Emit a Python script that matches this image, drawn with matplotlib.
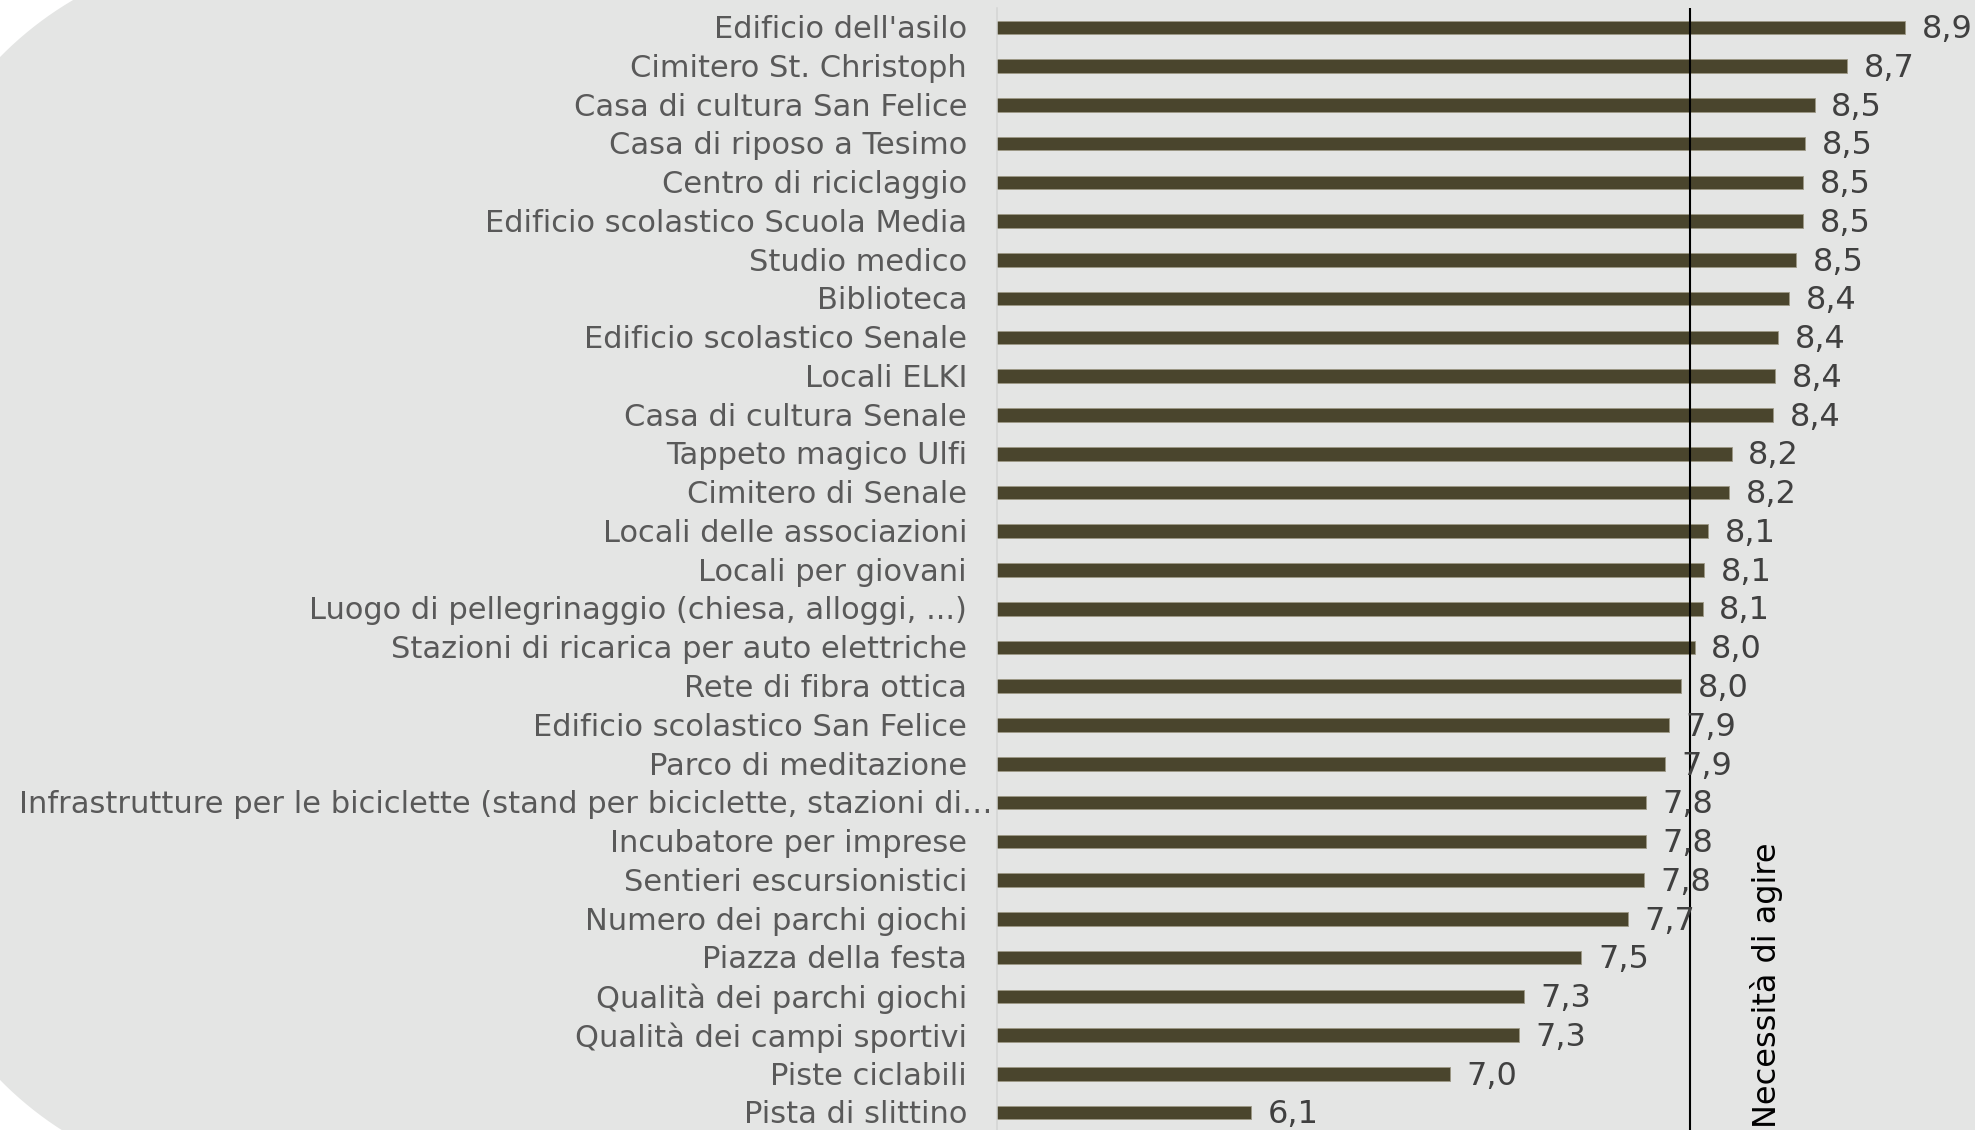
import matplotlib
matplotlib.use('Agg')
import matplotlib.pyplot as plt
from matplotlib.patches import Polygon
import numpy as np

CATEGORIES = [
    "Edificio dell'asilo",
    'Cimitero St. Christoph',
    'Casa di cultura San Felice',
    'Casa di riposo a Tesimo',
    'Centro di riciclaggio',
    'Edificio scolastico Scuola Media',
    'Studio medico',
    'Biblioteca',
    'Edificio scolastico Senale',
    'Locali ELKI',
    'Casa di cultura Senale',
    'Tappeto magico Ulfi',
    'Cimitero di Senale',
    'Locali delle associazioni',
    'Locali per giovani',
    'Luogo di pellegrinaggio (chiesa, alloggi, ...)',
    'Stazioni di ricarica per auto elettriche',
    'Rete di fibra ottica',
    'Edificio scolastico San Felice',
    'Parco di meditazione',
    'Infrastrutture per le biciclette (stand per biciclette, stazioni di\u2026',
    'Incubatore per imprese',
    'Sentieri escursionistici',
    'Numero dei parchi giochi',
    'Piazza della festa',
    'Qualità dei parchi giochi',
    'Qualità dei campi sportivi',
    'Piste ciclabili',
    'Pista di slittino',
]
VALUES = [8.93, 8.68, 8.54, 8.50, 8.49, 8.49, 8.46, 8.43, 8.38, 8.37, 8.36,
          8.18, 8.17, 8.08, 8.06, 8.055, 8.02, 7.96, 7.91, 7.89, 7.81, 7.81,
          7.80, 7.73, 7.53, 7.28, 7.26, 6.96, 6.10]
THRESHOLD = 8.0
THRESHOLD_LABEL = 'Necessità di agire'
X_MIN, X_MAX = 5.0, 9.234

BG      = '#e4e5e4'
BAR     = '#4a452d'
TXT_CAT = '#595959'
TXT_VAL = '#404040'

W, H = 1975, 1130
fig = plt.figure(figsize=(W / 100, H / 100), dpi=100)
fig.patch.set_facecolor('white')

# ─── rounded background panel (pixel units, left corners round) ──────────────
bg = fig.add_axes([0, 0, 1, 1], zorder=0)
bg.set_xlim(0, W)
bg.set_ylim(H, 0)
bg.axis('off')
R, cx, cy_top, cy_bot = 350, 250, 302, 835
t_top = np.linspace(np.pi * 1.5, np.pi, 60)
t_bot = np.linspace(np.pi, np.pi * 0.5, 60)
pts = ([(2600, -48)]
       + list(zip(cx + R * np.cos(t_top), cy_top + R * np.sin(t_top)))
       + list(zip(cx + R * np.cos(t_bot), cy_bot + R * np.sin(t_bot)))
       + [(2600, cy_bot + R)])
bg.add_patch(Polygon(pts, closed=True, fc=BG, ec='none'))

# ─── bar chart ────────────────────────────────────────────────────────────────
ax = fig.add_axes([997 / W, -2 / H, (W - 997) / W, 1124 / H], zorder=1)
ax.set_facecolor('none')
n = len(CATEGORIES)
y = np.arange(n)

ax.barh(y, VALUES, height=0.35, color=BAR, edgecolor='#9c9885', linewidth=0.6)
ax.set_xlim(X_MIN, X_MAX)
ax.set_ylim(n - 0.5, -0.5)

for sp in ['top', 'right', 'bottom']:
    ax.spines[sp].set_visible(False)
ax.spines['left'].set_color('#d4d5d4')
ax.spines['left'].set_linewidth(1.1)
ax.set_xticks([])
ax.set_yticks([])

for i, (cat, val) in enumerate(zip(CATEGORIES, VALUES)):
    off = -3 if len(cat) > 50 else -21.6
    ax.annotate(cat, xy=(0, i), xycoords=('axes fraction', 'data'),
                xytext=(off, -1.6), textcoords='offset points',
                ha='right', va='center', fontsize=22, color=TXT_CAT,
                annotation_clip=False)
    ax.annotate(f'{val:.1f}'.replace('.', ','), xy=(val, i),
                xytext=(12, -1.6), textcoords='offset points',
                ha='left', va='center', fontsize=23, color=TXT_VAL,
                annotation_clip=False)

ax.axvline(THRESHOLD, color='black', linewidth=1.5)
ax.text(8.33, 0.004, THRESHOLD_LABEL, transform=ax.get_xaxis_transform(),
        rotation=90, ha='center', va='bottom', fontsize=23, color='black')

plt.savefig('out.png', dpi=100, facecolor='white')
plt.close()
